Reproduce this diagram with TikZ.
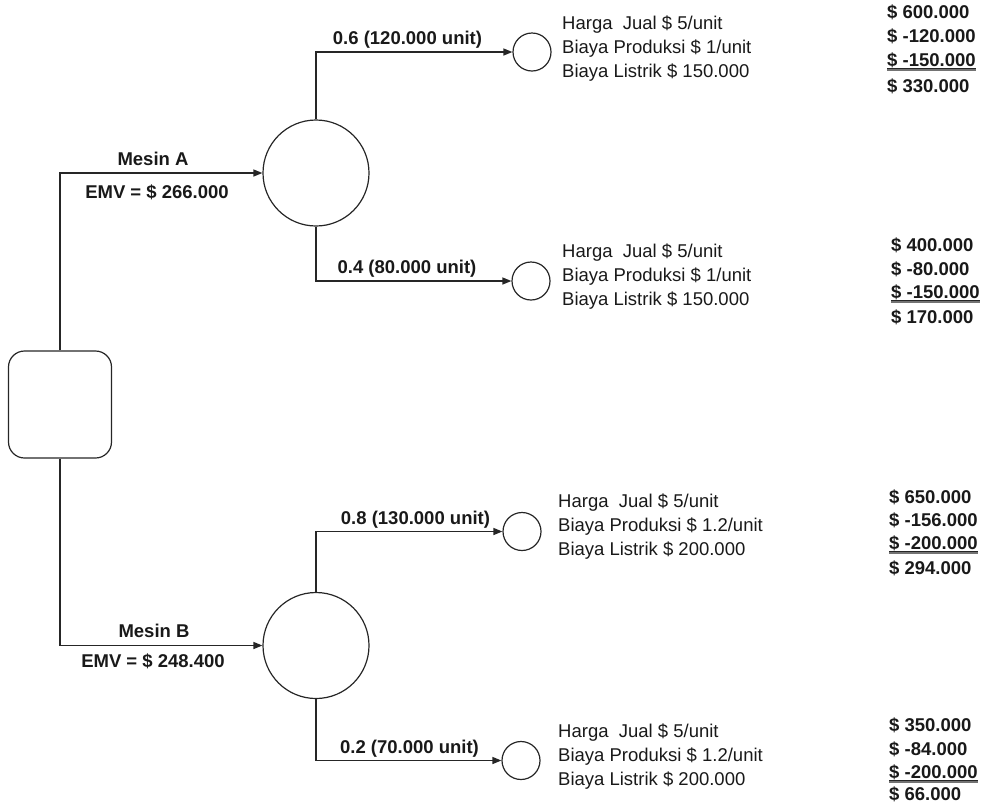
\documentclass[tikz,border=0pt]{standalone}
\usepackage{fontspec}
\setmainfont{Liberation Sans}
\usetikzlibrary{arrows.meta}
\begin{document}
\begin{tikzpicture}[x=1pt,y=-1pt,
  conn/.style={line width=1.4pt, draw=black!85},
  arr/.style={conn, -{Triangle[length=9pt,width=7pt]}},
  bigchance/.style={circle, draw=black!85, line width=1.2pt, inner sep=0pt, minimum size=106pt},
  smallchance/.style={circle, draw=black!85, line width=1.2pt, inner sep=0pt, minimum size=38pt},
  decision/.style={rectangle, rounded corners=16pt, draw=black!85, line width=1.2pt, minimum width=103pt, minimum height=107pt, inner sep=0pt},
  txt/.style={font=\fontsize{18.5}{24}\selectfont, inner sep=0pt, anchor=base west, text=black!90},
  lbl/.style={font=\bfseries\fontsize{18.5}{24}\selectfont, inner sep=0pt, anchor=base, text=black!90},
  val/.style={font=\bfseries\fontsize{18.5}{24}\selectfont, inner sep=0pt, anchor=base west, text=black!90},
  sepline/.style={line width=2pt, draw=black!55}
]
\useasboundingbox (0,0) rectangle (984,804);

% decision and chance nodes
\node[decision] (D) at (60,404.5) {};
\node[bigchance] (A) at (316,173) {};
\node[bigchance] (B) at (316,645.5) {};
\node[smallchance] (c1) at (532,52) {};
\node[smallchance] (c2) at (531,281) {};
\node[smallchance] (c3) at (522,531.5) {};
\node[smallchance] (c4) at (521,760.5) {};

% connectors
\draw[arr] (D.north) |- (A.west);
\draw[arr] (D.south) |- (B.west);
\draw[arr] (A.north) |- (c1.west);
\draw[arr] (A.south) |- (c2.west);
\draw[arr] (B.north) |- (c3.west);
\draw[arr] (B.south) |- (c4.west);

% branch labels
\node[lbl] (mA) at (153,165) {Mesin A};
\node[lbl] (eA) at (157,198) {EMV = \$ 266.000};
\node[lbl] (mB) at (154,637) {Mesin B};
\node[lbl] (eB) at (153,667) {EMV = \$ 248.400};
\node[lbl] (p1) at (407.5,44) {0.6 (120.000 unit)};
\node[lbl] (p2) at (407,273) {0.4 (80.000 unit)};
\node[lbl] (p3) at (415.5,524) {0.8 (130.000 unit)};
\node[lbl] (p4) at (409.5,753) {0.2 (70.000 unit)};

% outcome descriptions
\node[txt] (t11) at (562,29) {Harga\ \ Jual \$ 5/unit};
\node[txt] (t12) at (562,53) {Biaya Produksi \$ 1/unit};
\node[txt] (t13) at (562,77) {Biaya Listrik \$ 150.000};
\node[txt] (t21) at (562,257) {Harga\ \ Jual \$ 5/unit};
\node[txt] (t22) at (562,281) {Biaya Produksi \$ 1/unit};
\node[txt] (t23) at (562,305) {Biaya Listrik \$ 150.000};
\node[txt] (t31) at (558,507) {Harga\ \ Jual \$ 5/unit};
\node[txt] (t32) at (558,531) {Biaya Produksi \$ 1.2/unit};
\node[txt] (t33) at (558,555) {Biaya Listrik \$ 200.000};
\node[txt] (t41) at (558,737) {Harga\ \ Jual \$ 5/unit};
\node[txt] (t42) at (558,761) {Biaya Produksi \$ 1.2/unit};
\node[txt] (t43) at (558,785) {Biaya Listrik \$ 200.000};

% values
\node[val] (v11) at (887,18) {\$ 600.000};
\node[val] (v12) at (887,42) {\$ -120.000};
\node[val] (v13) at (887,66) {\$ -150.000};
\node[val] (v14) at (887,92) {\$ 330.000};
\node[val] (v21) at (891,251) {\$ 400.000};
\node[val] (v22) at (891,275) {\$ -80.000};
\node[val] (v23) at (891,298) {\$ -150.000};
\node[val] (v24) at (891,323) {\$ 170.000};
\node[val] (v31) at (889,503) {\$ 650.000};
\node[val] (v32) at (889,526) {\$ -156.000};
\node[val] (v33) at (889,549) {\$ -200.000};
\node[val] (v34) at (889,574) {\$ 294.000};
\node[val] (v41) at (889,731) {\$ 350.000};
\node[val] (v42) at (889,755) {\$ -84.000};
\node[val] (v43) at (889,778) {\$ -200.000};
\node[val] (v44) at (889,800) {\$ 66.000};

% underline + separator
\foreach \v in {v13,v23,v33,v43}{
  \draw[sepline] ([yshift=-4.3pt]\v.base west) -- ([yshift=-4.3pt]\v.base east);
  \draw[line width=1.2pt, black!85] ([yshift=-2.6pt]\v.base west) -- ([yshift=-2.6pt]\v.base east);
}
\end{tikzpicture}
\end{document}
